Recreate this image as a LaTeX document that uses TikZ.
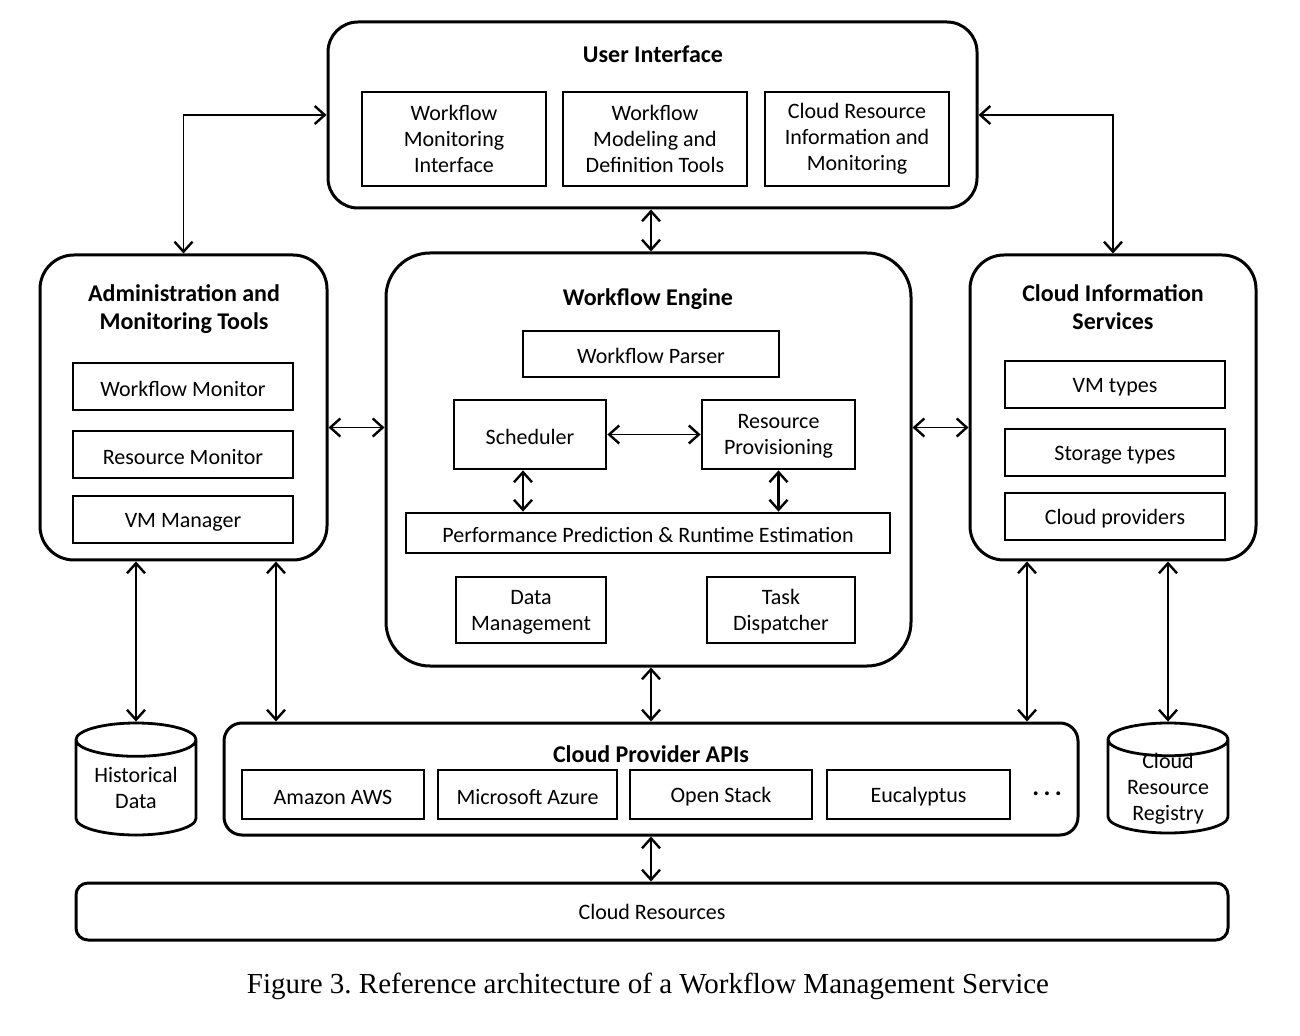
\documentclass[tikz,border=0pt]{standalone}
\usepackage{fontspec}
\setmainfont{Carlito}
\newfontfamily\captionfont{Liberation Serif}
\usetikzlibrary{arrows.meta,shapes.geometric}

\begin{document}
\begin{tikzpicture}[x=0.5pt,y=-0.5pt,
    every node/.style={font=\fontsize{11}{13}\selectfont},
    group/.style={draw,line width=1.5pt,rounded corners=#1},
    group/.default=15pt,
    part/.style={draw,line width=1.4pt,align=center,inner sep=0pt,
        execute at begin node={\rule{0pt}{10pt}}},
    twoline/.style={part,text depth=-5.5pt},
    heading/.style={font=\bfseries\fontsize{12}{14}\selectfont,align=center},
    store/.style={draw,line width=1.4pt,cylinder,shape border rotate=90,aspect=0.4,
        align=center,inner sep=0pt,anchor=shape center},
    link/.style={line width=0.8pt,{Straight Barb[length=5pt,width=9pt,line width=1.2pt]}-{Straight Barb[length=5pt,width=9pt,line width=1.2pt]}},
    biglink/.style={link,line width=1.3pt}]
    \useasboundingbox (0,0) rectangle (1300,1036);

    % user interface
    \node[group,minimum width=324.5pt,minimum height=93pt] (ui) at (652.5,115) {};
    \node[heading] (uititle) at (653,54) {User Interface};
    \node[part,minimum width=92pt,minimum height=47pt] (wmi) at (454,139) {Workflow\\Monitoring\\Interface};
    \node[part,minimum width=92pt,minimum height=47pt] (wmd) at (655,139) {Workflow\\Modeling and\\Definition Tools};
    \node[part,minimum width=92pt,minimum height=47pt] (cri) at (857,139) {Cloud Resource\\Information and\\Monitoring};

    % administration
    \node[group=17pt,minimum width=143.5pt,minimum height=152.5pt] (adm) at (183.5,407.5) {};
    \node[heading] (admtitle) at (184,309) {Administration and\\Monitoring Tools};
    \node[part,minimum width=110pt,minimum height=23.5pt] (wfmon) at (183,386.5) {Workflow Monitor};
    \node[part,minimum width=110pt,minimum height=23.5pt] (resmon) at (183,454.5) {Resource Monitor};
    \node[part,minimum width=110pt,minimum height=23.5pt] (vmman) at (183,519.5) {VM Manager};

    % engine
    \node[group=22pt,minimum width=262.5pt,minimum height=206.5pt] (eng) at (648.5,459.5) {};
    \node[heading] (engtitle) at (648,299) {Workflow Engine};
    \node[part,minimum width=128pt,minimum height=23pt] (parser) at (651,354) {Workflow Parser};
    \node[part,minimum width=76pt,minimum height=34.5pt] (sched) at (530,434.5) {Scheduler};
    \node[twoline,minimum width=76.5pt,minimum height=34.5pt] (prov) at (778.5,434.5) {Resource\\Provisioning};
    \node[part,minimum width=242pt,minimum height=20pt] (perf) at (648,533) {Performance Prediction \& Runtime Estimation};
    \node[twoline,minimum width=75pt,minimum height=33pt] (dataman) at (531,610) {Data\\Management};
    \node[twoline,minimum width=74pt,minimum height=33pt] (taskdis) at (781,610) {Task\\Dispatcher};

    % cloud information
    \node[group=17pt,minimum width=143pt,minimum height=152.5pt] (cis) at (1113,407.5) {};
    \node[heading] (cistitle) at (1113,307) {Cloud Information\\Services};
    \node[part,minimum width=110pt,minimum height=23.5pt] (vmt) at (1115,384.5) {VM types};
    \node[part,minimum width=110pt,minimum height=23.5pt] (stor) at (1115,452.5) {Storage types};
    \node[part,minimum width=110pt,minimum height=23.5pt] (cprov) at (1115,516.5) {Cloud providers};

    % provider apis
    \node[group=9pt,minimum width=427pt,minimum height=56pt] (apis) at (651,779) {};
    \node[heading] (apititle) at (651,754) {Cloud Provider APIs};
    \node[part,minimum width=91pt,minimum height=24.5pt] (aws) at (333,794.5) {Amazon AWS};
    \node[part,minimum width=89.5pt,minimum height=24.5pt] (azure) at (527.5,794.5) {Microsoft Azure};
    \node[part,minimum width=91pt,minimum height=24.5pt] (ostack) at (721,794.5) {Open Stack};
    \node[part,minimum width=91.5pt,minimum height=24.5pt] (euca) at (918.5,794.5) {Eucalyptus};
    \node[font=\bfseries\fontsize{13}{13}\selectfont] (more) at (1047,794) {.\,.\,.};

    % stores
    \node[store,minimum width=60pt,minimum height=56pt] (hist) at (136,779) {Historical\\Data};
    \node[store,minimum width=60pt,minimum height=55pt,inner ysep=-6pt,text depth=-1.5pt] (reg) at (1168,778) {Cloud\\Resource\\Registry};

    % resources
    \node[group=6pt,minimum width=576pt,minimum height=28.5pt] (res) at (652,911.5) {Cloud Resources};

    % connectors
    \draw[link] (ui.west) -| (adm.north);
    \draw[link] (ui.east) -| (cis.north);
    \draw[biglink] ([xshift=-0.75pt]ui.south) -- ([xshift=-0.75pt]ui.south |- eng.north);
    \coordinate (a1) at ([yshift=-10pt]adm.east);
    \draw[link] (a1) -- (a1 -| eng.west);
    \coordinate (c1) at ([yshift=-10pt]cis.west);
    \draw[link] (c1 -| eng.east) -- (c1);
    \draw[link] (sched.east) -- (prov.west);
    \coordinate (s1) at ([xshift=-3.5pt]sched.south);
    \draw[biglink] (s1) -- (s1 |- perf.north);
    \draw[biglink] (prov.south) -- (prov.south |- perf.north);
    \draw[biglink] (apis.north |- eng.south) -- (apis.north);
    \draw[link] (hist.north |- adm.south) -- (hist.north);
    \coordinate (a2) at ([xshift=46.25pt]adm.south);
    \draw[link] (a2) -- (a2 |- apis.north);
    \coordinate (c2) at ([xshift=-43pt]cis.south);
    \draw[link] (c2) -- (c2 |- apis.north);
    \draw[link] (reg.north |- cis.south) -- (reg.north);
    \draw[biglink] (apis.south) -- (apis.south |- res.north);

    % caption
    \node[font=\captionfont\fontsize{14.5}{16}\selectfont\frenchspacing] (caption) at (648,986) {Figure 3. Reference architecture of a Workflow Management Service};
\end{tikzpicture}
\end{document}
